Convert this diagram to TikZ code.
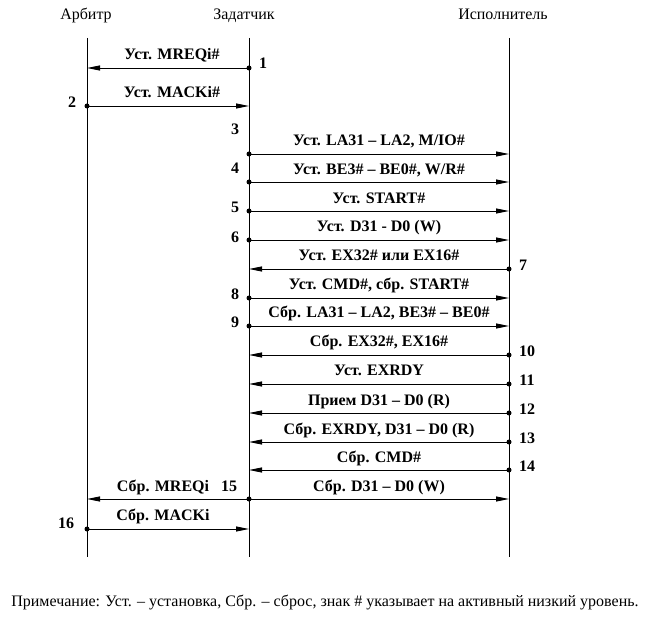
\documentclass[tikz,border=0pt]{standalone}
\usepackage{fontspec}
\setmainfont{Liberation Serif}
\usetikzlibrary{arrows.meta}
\begin{document}
\begin{tikzpicture}[x=1pt,y=-1pt,line width=0.9pt,
  msg/.style={-{Triangle[length=13pt,width=5pt]}},
  lbl/.style={font=\bfseries\fontsize{16}{18}\selectfont, inner sep=0pt, anchor=base},
  num/.style={font=\bfseries\fontsize{16}{18}\selectfont, inner sep=0pt},
  hdr/.style={font=\fontsize{16}{18}\selectfont, inner sep=0pt, anchor=base},
  dot/.style={circle,fill,inner sep=0pt,minimum size=5pt}]
\useasboundingbox (0,0) rectangle (653,617);
% headers
\node[hdr] (hA) at (86,20) {Арбитр};
\node[hdr] (hZ) at (244,20) {Задатчик};
\node[hdr] (hI) at (503,20) {Исполнитель};
% lifelines
\coordinate (At) at (87,38); \coordinate (Ab) at (87,557);
\coordinate (Zt) at (249,38); \coordinate (Zb) at (249,557);
\coordinate (It) at (509,38); \coordinate (Ib) at (509,557);
\draw (At) -- (Ab);
\draw (Zt) -- (Zb);
\draw (It) -- (Ib);
% 1
\coordinate (z1) at (249,68); \coordinate (a1) at (87,68);
\draw[msg] (z1) -- (a1); \node[dot] (d1) at (z1) {};
\node[lbl] (l1) at (172,60) {Уст. MREQi\#};
\node[num] (n1) at (263,63) {1};
% 2
\coordinate (a2) at (87,106); \coordinate (z2) at (249,106);
\draw[msg] (a2) -- (z2); \node[dot] (d2) at (a2) {};
\node[lbl] (l2) at (172,98) {Уст. MACKi\#};
\node[num] (n2) at (72,102) {2};
% 3
\coordinate (z3) at (249,154); \coordinate (i3) at (509,154);
\draw[msg] (z3) -- (i3); \node[dot] (d3) at (z3) {};
\node[lbl] (l3) at (379,146) {Уст. LA31 – LA2, M/IO\#};
\node[num] (n3) at (235,129) {3};
% 4
\coordinate (z4) at (249,182); \coordinate (i4) at (509,182);
\draw[msg] (z4) -- (i4); \node[dot] (d4) at (z4) {};
\node[lbl] (l4) at (379,175) {Уст. BE3\# – BE0\#, W/R\#};
\node[num] (n4) at (235,168) {4};
% 5
\coordinate (z5) at (249,211); \coordinate (i5) at (509,211);
\draw[msg] (z5) -- (i5); \node[dot] (d5) at (z5) {};
\node[lbl] (l5) at (379,204) {Уст. START\#};
\node[num] (n5) at (235,207) {5};
% 6
\coordinate (z6) at (249,240); \coordinate (i6) at (509,240);
\draw[msg] (z6) -- (i6); \node[dot] (d6) at (z6) {};
\node[lbl] (l6) at (379,232) {Уст. D31 - D0 (W)};
\node[num] (n6) at (235,237) {6};
% 7
\coordinate (i7) at (509,269); \coordinate (z7) at (249,269);
\draw[msg] (i7) -- (z7); \node[dot] (d7) at (i7) {};
\node[lbl] (l7) at (379,261) {Уст. EX32\# или EX16\#};
\node[num] (n7) at (523,265) {7};
% 8
\coordinate (z8) at (249,298); \coordinate (i8) at (509,298);
\draw[msg] (z8) -- (i8); \node[dot] (d8) at (z8) {};
\node[lbl] (l8) at (379,290) {Уст. CMD\#, сбр. START\#};
\node[num] (n8) at (235,294) {8};
% 9
\coordinate (z9) at (249,326); \coordinate (i9) at (509,326);
\draw[msg] (z9) -- (i9); \node[dot] (d9) at (z9) {};
\node[lbl] (l9) at (379,318) {Сбр. LA31 – LA2, BE3\# – BE0\#};
\node[num] (n9) at (235,322) {9};
% 10
\coordinate (i10) at (509,355); \coordinate (z10) at (249,355);
\draw[msg] (i10) -- (z10); \node[dot] (d10) at (i10) {};
\node[lbl] (l10) at (379,347) {Сбр. EX32\#, EX16\#};
\node[num] (n10) at (527,351) {10};
% 11
\coordinate (i11) at (509,384); \coordinate (z11) at (249,384);
\draw[msg] (i11) -- (z11); \node[dot] (d11) at (i11) {};
\node[lbl] (l11) at (379,376) {Уст. EXRDY};
\node[num] (n11) at (527,380) {11};
% 12
\coordinate (i12) at (509,413); \coordinate (z12) at (249,413);
\draw[msg] (i12) -- (z12); \node[dot] (d12) at (i12) {};
\node[lbl] (l12) at (379,405) {Прием D31 – D0 (R)};
\node[num] (n12) at (527,409) {12};
% 13
\coordinate (i13) at (509,442); \coordinate (z13) at (249,442);
\draw[msg] (i13) -- (z13); \node[dot] (d13) at (i13) {};
\node[lbl] (l13) at (379,434) {Сбр. EXRDY, D31 – D0 (R)};
\node[num] (n13) at (527,438) {13};
% 14
\coordinate (i14) at (509,470); \coordinate (z14) at (249,470);
\draw[msg] (i14) -- (z14); \node[dot] (d14) at (i14) {};
\node[lbl] (l14) at (379,462) {Сбр. CMD\#};
\node[num] (n14) at (527,466) {14};
% 15
\coordinate (z15) at (249,499); \coordinate (i15) at (509,499); \coordinate (a15) at (87,499);
\draw[msg] (z15) -- (i15);
\draw[msg] (z15) -- (a15);
\node[dot] (d15) at (z15) {};
\node[lbl] (l15) at (379,491) {Сбр. D31 – D0 (W)};
\node[lbl] (l15a) at (163,491) {Сбр. MREQi};
\node[num] (n15) at (229,486) {15};
% 16
\coordinate (a16) at (87,529); \coordinate (z16) at (249,529);
\draw[msg] (a16) -- (z16); \node[dot] (d16) at (a16) {};
\node[lbl] (l16) at (163,520) {Сбр. MACKi};
\node[num] (n16) at (66,523) {16};
% note
\node[hdr] (note) at (325,606) {Примечание: Уст. – установка, Сбр. – сброс, знак \# указывает на активный низкий уровень.};
\end{tikzpicture}
\end{document}
